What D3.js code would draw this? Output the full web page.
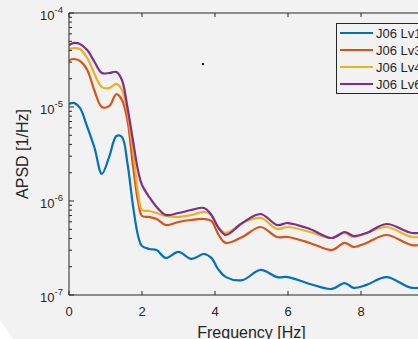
<!DOCTYPE html>
<html><head><meta charset="utf-8">
<script src="https://cdn.jsdelivr.net/npm/d3@7"></script>
<style>html,body{margin:0;padding:0;background:#f2f2f2;overflow:hidden}</style>
</head><body>
<svg id="c" width="418" height="339"></svg>
<script>
const freq = [0, 0.15, 0.3, 0.5, 0.7, 0.9, 1.1, 1.3, 1.45, 1.6, 1.75, 1.9, 2.0, 2.2, 2.4, 2.65, 3.0, 3.35, 3.7, 3.9, 4.1, 4.3, 4.75, 5.25, 5.7, 6.0, 6.6, 7.2, 7.55, 7.8, 8.15, 8.7, 9.4, 10];
const lv1 = [1.08e-5, 1.10e-5, 9.76e-6, 6.13e-6, 3.66e-6, 1.94e-6, 2.94e-6, 4.91e-6, 4.80e-6, 2.54e-6, 9.07e-7, 4.14e-7, 3.32e-7, 3.09e-7, 3.01e-7, 2.48e-7, 2.87e-7, 2.42e-7, 2.73e-7, 2.48e-7, 1.85e-7, 1.55e-7, 1.44e-7, 1.85e-7, 1.55e-7, 1.55e-7, 1.31e-7, 1.16e-7, 1.34e-7, 1.19e-7, 1.28e-7, 1.55e-7, 1.19e-7, 1.31e-7];
const lv3 = [3.16e-5, 3.24e-5, 3.09e-5, 2.48e-5, 1.48e-5, 1.00e-5, 1.02e-5, 1.37e-5, 1.19e-5, 7.27e-6, 2.42e-6, 9.52e-7, 6.92e-7, 6.76e-7, 6.43e-7, 5.56e-7, 5.98e-7, 6.28e-7, 6.43e-7, 6.13e-7, 4.35e-7, 3.58e-7, 4.14e-7, 5.29e-7, 4.14e-7, 4.14e-7, 3.58e-7, 3.01e-7, 3.58e-7, 3.24e-7, 3.58e-7, 4.35e-7, 3.40e-7, 3.58e-7];
const lv4 = [4.14e-5, 4.24e-5, 4.14e-5, 3.32e-5, 2.24e-5, 1.63e-5, 1.59e-5, 1.76e-5, 1.52e-5, 8.85e-6, 3.49e-6, 1.16e-6, 8.02e-7, 7.83e-7, 7.45e-7, 6.92e-7, 6.76e-7, 7.10e-7, 7.64e-7, 7.10e-7, 5.16e-7, 4.57e-7, 5.83e-7, 6.59e-7, 5.04e-7, 5.29e-7, 4.68e-7, 4.04e-7, 4.57e-7, 4.14e-7, 4.57e-7, 5.29e-7, 4.14e-7, 4.35e-7];
const lv6 = [4.57e-5, 4.80e-5, 4.68e-5, 4.04e-5, 3.01e-5, 2.30e-5, 2.30e-5, 2.36e-5, 1.94e-5, 1.00e-5, 4.46e-6, 2.03e-6, 1.48e-6, 1.10e-6, 8.64e-7, 7.10e-7, 7.45e-7, 8.02e-7, 8.43e-7, 7.10e-7, 5.16e-7, 4.35e-7, 5.83e-7, 7.27e-7, 5.56e-7, 5.83e-7, 5.04e-7, 4.04e-7, 4.68e-7, 4.24e-7, 4.57e-7, 5.69e-7, 4.57e-7, 4.80e-7];
const seriesNames = ["J06 Lv1", "J06 Lv3", "J06 Lv4", "J06 Lv6"];
const seriesColors = ["#0072BD", "#D95319", "#EDB120", "#7E2F8E"];
const xTicks = [0, 2, 4, 6, 8, 10];
const xTickLabels = ["0", "2", "4", "6", "8", ""];
const yTickExps = [-7, -6, -5, -4];
const strayPoint = [{f: 3.67, v: 2.86e-5}];

const series = [lv1, lv3, lv4, lv6];
const svg = d3.select("#c");
const L = 69, R = 434, T = 13, B = 295;
const x = d3.scaleLinear().domain([0, 10]).range([L, R]);
const y = d3.scaleLog().domain([1e-7, 1e-4]).range([B, T]);
const axisCol = "#262626";
const font = "'Liberation Sans', Arial, sans-serif";

svg.append("rect").attr("width", 418).attr("height", 339).attr("fill", "#f2f2f2");
svg.append("polygon").attr("points", "0,320 0,339 13,339").attr("fill", "#ffffff");

svg.append("defs").append("clipPath").attr("id", "clip")
  .append("rect").attr("x", L).attr("y", T).attr("width", R - L).attr("height", B - T);

// lines
const line = d3.line().x((d, i) => x(freq[i])).y(d => y(d)).curve(d3.curveCatmullRom.alpha(0.5));
const g = svg.append("g").attr("clip-path", "url(#clip)");
series.forEach((s, k) => {
  g.append("path").attr("d", line(s)).attr("fill", "none")
    .attr("stroke", seriesColors[k]).attr("stroke-width", 2.2).attr("stroke-linejoin", "round");
});
g.selectAll("rect.pt").data(strayPoint).join("rect")
  .attr("x", d => x(d.f) - 1).attr("y", d => y(d.v) - 1).attr("width", 2).attr("height", 2).attr("fill", "#000");

// axes box
const ax = svg.append("g");
ax.append("line").attr("x1", L).attr("x2", L).attr("y1", T).attr("y2", B).attr("stroke", axisCol);
ax.append("line").attr("x1", L).attr("x2", R).attr("y1", B).attr("y2", B).attr("stroke", axisCol);
ax.append("line").attr("x1", L).attr("x2", R).attr("y1", T).attr("y2", T).attr("stroke", axisCol);

// x ticks
xTicks.forEach((t, i) => {
  const px = x(t);
  ax.append("line").attr("x1", px).attr("x2", px).attr("y1", B).attr("y2", B - 4).attr("stroke", axisCol);
  ax.append("line").attr("x1", px).attr("x2", px).attr("y1", T).attr("y2", T + 4).attr("stroke", axisCol);
  if (xTickLabels[i]) {
    ax.append("text").attr("x", px).attr("y", 316).attr("text-anchor", "middle")
      .attr("font-family", font).attr("font-size", 13).attr("fill", axisCol).text(xTickLabels[i]);
  }
});

// y ticks (major + minor)
yTickExps.forEach(e => {
  const v = Math.pow(10, e);
  const py = y(v);
  ax.append("line").attr("x1", L).attr("x2", L + 5).attr("y1", py).attr("y2", py).attr("stroke", axisCol);
  const tx = ax.append("text").attr("x", 63).attr("y", py + 7).attr("text-anchor", "end")
    .attr("font-family", font).attr("font-size", 13).attr("fill", axisCol);
  tx.append("tspan").text("10");
  tx.append("tspan").attr("font-size", 9.5).attr("dy", -7).text(e);
  if (e < -4) {
    for (let m = 2; m <= 9; m++) {
      const pm = y(m * v);
      ax.append("line").attr("x1", L).attr("x2", L + 3).attr("y1", pm).attr("y2", pm).attr("stroke", axisCol);
    }
  }
});

// axis labels
svg.append("text").attr("x", (L + R) / 2).attr("y", 338).attr("text-anchor", "middle")
  .attr("font-family", font).attr("font-size", 16).attr("fill", axisCol).text("Frequency [Hz]");
svg.append("text").attr("transform", `translate(28,${(T + B) / 2}) rotate(-90)`).attr("text-anchor", "middle")
  .attr("font-family", font).attr("font-size", 16).attr("fill", axisCol).text("APSD [1/Hz]");

// legend
const lg = svg.append("g");
lg.append("rect").attr("x", 336.5).attr("y", 23.5).attr("width", 120).attr("height", 70)
  .attr("fill", "#f2f2f2").attr("stroke", axisCol).attr("stroke-width", 1);
seriesNames.forEach((n, k) => {
  const ly = 33 + k * 17;
  lg.append("line").attr("x1", 340).attr("x2", 373).attr("y1", ly).attr("y2", ly)
    .attr("stroke", seriesColors[k]).attr("stroke-width", 2);
  lg.append("text").attr("x", 376).attr("y", ly + 5).attr("font-family", font).attr("font-size", 13)
    .attr("fill", axisCol).text(n);
});
</script>
</body></html>
